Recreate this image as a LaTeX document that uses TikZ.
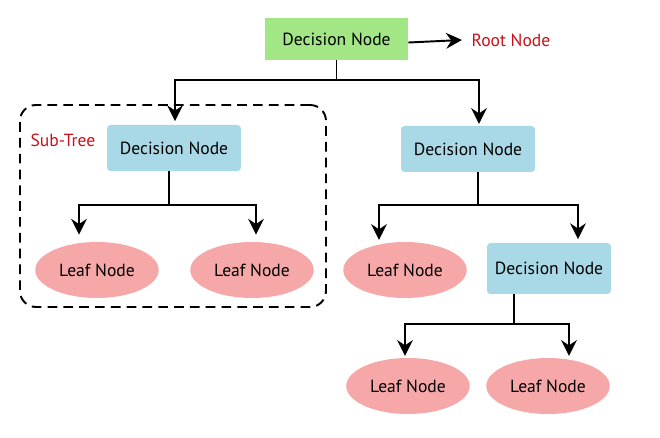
\documentclass[tikz,border=0pt]{standalone}
\usepackage{fontspec}
\setmainfont{PT Sans}
\usetikzlibrary{arrows.meta,shapes.geometric}
\definecolor{rootgreen}{HTML}{A3E686}
\definecolor{decblue}{HTML}{A9D8E6}
\definecolor{leafpink}{HTML}{F6A8A8}
\definecolor{labelred}{HTML}{C8101A}

\begin{document}
\begin{tikzpicture}[x=0.02cm, y=-0.02cm, font=\fontsize{10}{12}\selectfont,
    decision/.style = {rectangle, rounded corners=2pt, fill=decblue, minimum width=2.68cm, minimum height=0.92cm},
    leaf/.style = {ellipse, fill=leafpink, minimum width=2.44cm, minimum height=1.12cm},
    link/.style = {line width=1.1pt},
    tip/.style = {line width=1.1pt, -{Stealth[length=9pt, width=9pt, inset=3pt]}}]
        \useasboundingbox (0,0) rectangle (660,438);

        % sub-tree frame
        \node (subtree_box)[draw, dashed, line width=1.1pt, dash pattern=on 5.5pt off 3.5pt,
        rounded corners=9pt, minimum width=6.12cm, minimum height=4.04cm] at (173,206) {};
        \node (subtree_label) at (63,140) {\color{labelred}Sub-Tree};

        \node (root_diag)[decision, fill=rootgreen, rounded corners=0pt,
        minimum width=2.86cm, minimum height=0.84cm] at (336.5,39) {Decision Node};
        \node (root_label) at (511,40) {\color{labelred}Root Node};

        \node (left_diag)[decision] at (174,148) {Decision Node};
        \node (right_diag)[decision] at (468,149) {Decision Node};
        \node (inner_diag)[decision, minimum width=2.48cm, minimum height=1.02cm] at (549,268.5) {Decision Node};

        \node (leaf_1)[leaf] at (97,270) {Leaf Node};
        \node (leaf_2)[leaf] at (252,270) {Leaf Node};
        \node (leaf_3)[leaf] at (405,270) {Leaf Node};
        \node (leaf_4)[leaf] at (408,386) {Leaf Node};
        \node (leaf_5)[leaf] at (548,386) {Leaf Node};

        \coordinate (root_split) at (336.5,80);
        \coordinate (left_split) at (169,205);
        \coordinate (right_split) at (478,205);
        \coordinate (inner_split) at (514,324);

        \path[tip]([yshift=-2pt]root_diag.east) edge ([xshift=-2pt]root_label.west);

        \draw[link](root_diag) -- (root_split);
        \draw[tip](root_split) -| ([xshift=0.02cm, yshift=2pt]left_diag.north);
        \draw[tip](root_split) -| ([xshift=0.22cm, yshift=1pt]right_diag.north);

        \draw[link](left_diag.south -| left_split) -- (left_split);
        \draw[tip](left_split) -| ([xshift=-0.36cm, yshift=4pt]leaf_1.north);
        \draw[tip](left_split) -| ([xshift=0.08cm, yshift=4pt]leaf_2.north);

        \draw[link](right_diag.south -| right_split) -- (right_split);
        \draw[tip](right_split) -| ([xshift=-0.52cm, yshift=1pt]leaf_3.north);
        \draw[tip](right_split) -| ([xshift=0.58cm, yshift=2pt]inner_diag.north);

        \draw[link](inner_diag.south -| inner_split) -- (inner_split);
        \draw[tip](inner_split) -| ([xshift=-0.06cm, yshift=1pt]leaf_4.north);
        \draw[tip](inner_split) -| ([xshift=0.42cm, yshift=1pt]leaf_5.north);
    \end{tikzpicture}
\end{document}
